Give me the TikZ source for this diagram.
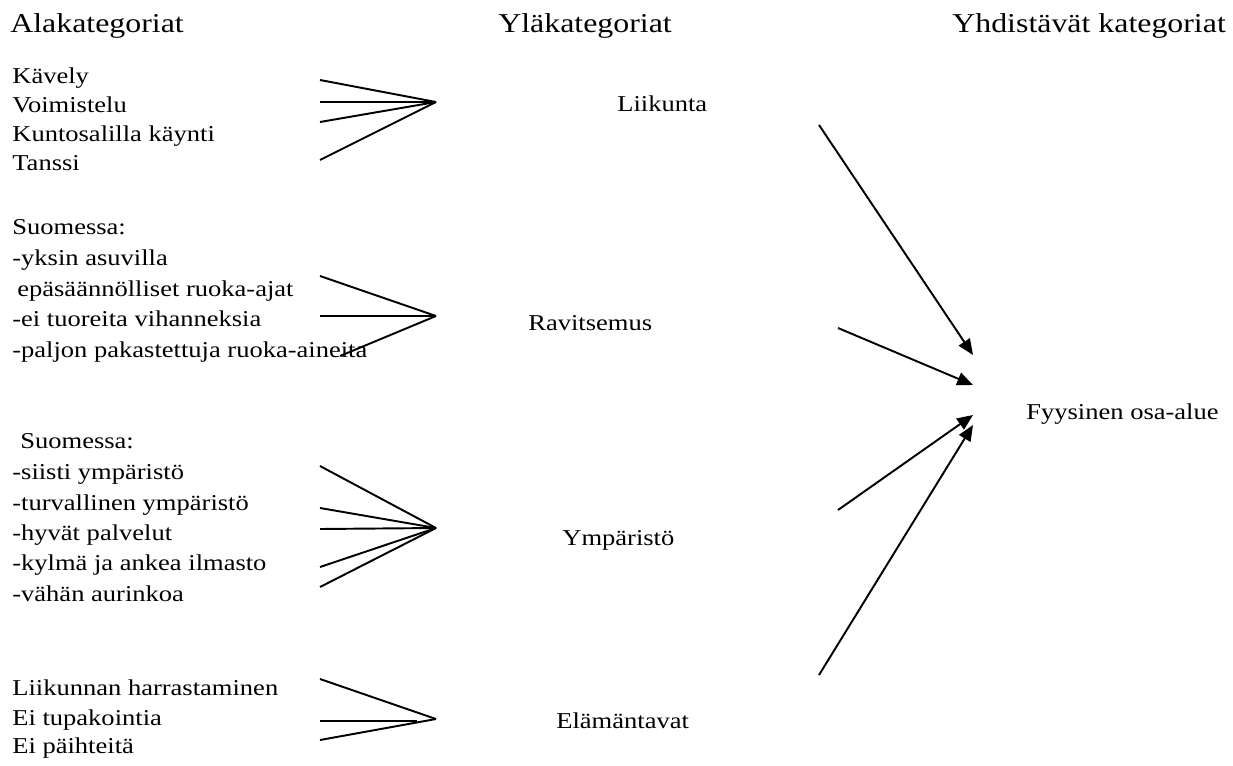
\documentclass[tikz,border=0pt]{standalone}
\usepackage{fontspec}
\setmainfont[FakeStretch=1.17]{Liberation Serif}
\usetikzlibrary{arrows.meta}
\tikzstyle{none}=[inner sep=0pt,minimum size=0pt]
\tikzstyle{head}=[anchor=base west,inner sep=0pt,font=\fontsize{15.5}{18}\selectfont]
\tikzstyle{item}=[anchor=base west,inner sep=0pt,font=\fontsize{12.9}{15}\selectfont]
\tikzstyle{fan}=[line width=1.1pt]
\tikzstyle{arr}=[line width=1.1pt,-{Triangle[length=9pt,width=7.5pt]}]

\begin{document}
\begin{tikzpicture}[x=2cm, y=2cm]
            \useasboundingbox (0, 0) rectangle (12.33, -7.65);
            % column titles
            \node [style=head] (0) at (0.10, -0.32) {Alakategoriat};
            \node [style=head] (1) at (4.98, -0.32) {Yläkategoriat};
            \node [style=head] (2) at (9.52, -0.32) {Yhdistävät kategoriat};
            % left column
            \node [style=item] (3) at (0.12, -0.83) {Kävely};
            \node [style=item] (4) at (0.12, -1.12) {Voimistelu};
            \node [style=item] (5) at (0.12, -1.41) {Kuntosalilla käynti};
            \node [style=item] (6) at (0.12, -1.70) {Tanssi};
            \node [style=item] (7) at (0.12, -2.34) {Suomessa:};
            \node [style=item] (8) at (0.12, -2.65) {-yksin asuvilla};
            \node [style=item] (9) at (0.17, -2.96) {epäsäännölliset ruoka-ajat};
            \node [style=item] (10) at (0.12, -3.26) {-ei tuoreita vihanneksia};
            \node [style=item] (11) at (0.12, -3.57) {-paljon pakastettuja ruoka-aineita};
            \node [style=item] (12) at (0.20, -4.48) {Suomessa:};
            \node [style=item] (13) at (0.12, -4.79) {-siisti ympäristö};
            \node [style=item] (14) at (0.12, -5.10) {-turvallinen ympäristö};
            \node [style=item] (15) at (0.12, -5.40) {-hyvät palvelut};
            \node [style=item] (16) at (0.12, -5.70) {-kylmä ja ankea ilmasto};
            \node [style=item] (17) at (0.12, -6.01) {-vähän aurinkoa};
            \node [style=item] (18) at (0.12, -6.95) {Liikunnan harrastaminen};
            \node [style=item] (19) at (0.12, -7.25) {Ei tupakointia};
            \node [style=item] (20) at (0.12, -7.53) {Ei päihteitä};
            % middle and right columns
            \node [style=item] (21) at (6.17, -1.11) {Liikunta};
            \node [style=item] (22) at (5.28, -3.30) {Ravitsemus};
            \node [style=item] (23) at (5.62, -5.45) {Ympäristö};
            \node [style=item] (24) at (5.56, -7.28) {Elämäntavat};
            \node [style=item] (25) at (10.26, -4.19) {Fyysinen osa-alue};
            % fan points
            \node [style=none] (30) at (4.36, -1.02) {};
            \node [style=none] (31) at (3.20, -0.80) {};
            \node [style=none] (32) at (3.20, -1.02) {};
            \node [style=none] (33) at (3.20, -1.22) {};
            \node [style=none] (34) at (3.20, -1.60) {};
            \node [style=none] (35) at (4.36, -3.16) {};
            \node [style=none] (36) at (3.20, -2.76) {};
            \node [style=none] (37) at (3.20, -3.16) {};
            \node [style=none] (38) at (3.40, -3.56) {};
            \node [style=none] (39) at (4.36, -5.28) {};
            \node [style=none] (40) at (3.20, -4.66) {};
            \node [style=none] (41) at (3.20, -5.08) {};
            \node [style=none] (42) at (3.20, -5.29) {};
            \node [style=none] (43) at (3.20, -5.67) {};
            \node [style=none] (44) at (3.20, -5.87) {};
            \node [style=none] (45) at (4.36, -7.19) {};
            \node [style=none] (46) at (3.20, -6.79) {};
            \node [style=none] (47) at (3.20, -7.21) {};
            \node [style=none] (48) at (4.17, -7.21) {};
            \node [style=none] (49) at (3.20, -7.40) {};
            % arrow points
            \node [style=none] (50) at (8.19, -1.25) {};
            \node [style=none] (51) at (9.73, -3.55) {};
            \node [style=none] (52) at (8.38, -3.28) {};
            \node [style=none] (53) at (9.73, -3.85) {};
            \node [style=none] (54) at (8.38, -5.10) {};
            \node [style=none] (55) at (9.73, -4.15) {};
            \node [style=none] (56) at (8.19, -6.75) {};
            \node [style=none] (57) at (9.73, -4.25) {};
            \draw [style=fan] (31.center) to (30.center);
            \draw [style=fan] (32.center) to (30.center);
            \draw [style=fan] (33.center) to (30.center);
            \draw [style=fan] (34.center) to (30.center);
            \draw [style=fan] (36.center) to (35.center);
            \draw [style=fan] (37.center) to (35.center);
            \draw [style=fan] (38.center) to (35.center);
            \draw [style=fan] (40.center) to (39.center);
            \draw [style=fan] (41.center) to (39.center);
            \draw [style=fan] (42.center) to (39.center);
            \draw [style=fan] (43.center) to (39.center);
            \draw [style=fan] (44.center) to (39.center);
            \draw [style=fan] (46.center) to (45.center);
            \draw [style=fan] (47.center) to (48.center);
            \draw [style=fan] (49.center) to (45.center);
            \draw [style=arr] (50.center) to (51.center);
            \draw [style=arr] (52.center) to (53.center);
            \draw [style=arr] (54.center) to (55.center);
            \draw [style=arr] (56.center) to (57.center);
\end{tikzpicture}
\end{document}
